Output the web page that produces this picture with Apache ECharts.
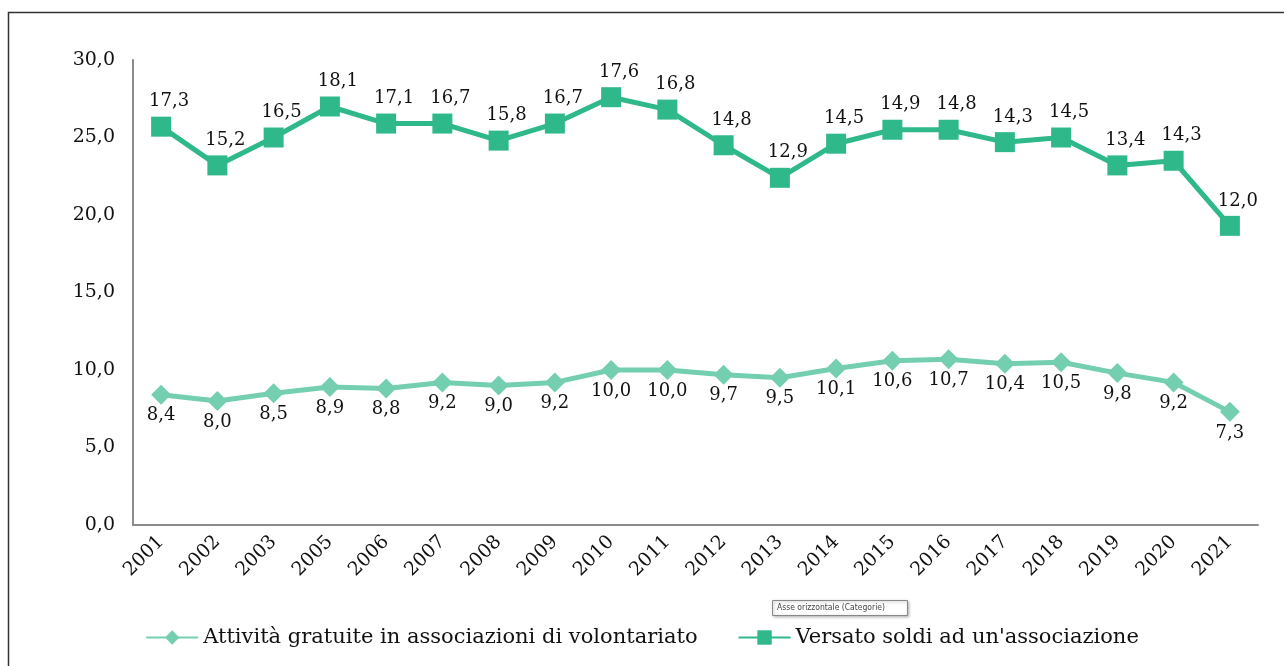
<!DOCTYPE html>
<html>
<head>
<meta charset="utf-8"/>
<title>Volontariato e donazioni</title>
<script src="https://cdn.jsdelivr.net/npm/echarts@6/dist/echarts.min.js"></script>
<style>
    html, body {margin: 0; padding: 0; background: #fff;}
    #chart {width: 1284px; height: 666px;}
</style>
</head>
<body>
<div id="chart"></div>
<script>
    // anni (manca il 2004)
    var years = ['2001', '2002', '2003', '2005', '2006', '2007', '2008', '2009', '2010', '2011',
        '2012', '2013', '2014', '2015', '2016', '2017', '2018', '2019', '2020', '2021'];
    var attivita = [8.4, 8.0, 8.5, 8.9, 8.8, 9.2, 9.0, 9.2, 10.0, 10.0,
        9.7, 9.5, 10.1, 10.6, 10.7, 10.4, 10.5, 9.8, 9.2, 7.3];
    var versato = [17.3, 15.2, 16.5, 18.1, 17.1, 16.7, 15.8, 16.7, 17.6, 16.8,
        14.8, 12.9, 14.5, 14.9, 14.8, 14.3, 14.5, 13.4, 14.3, 12.0];
    var yTicks = [0, 5, 10, 15, 20, 25, 30];

    var serif = 'DejaVu Serif';
    function virgola(v) {
        return Number(v).toFixed(1).replace('.', ',');
    }

    var myChart = echarts.init(document.getElementById('chart'));
    var option = {
        animation: false,
        backgroundColor: '#fff',
        textStyle: {fontFamily: serif, color: '#111'},
        grid: {left: 133, right: 26, top: 60, bottom: 141},
        legend: {
            bottom: 13,
            left: 'center',
            itemGap: 40,
            itemWidth: 52,
            itemHeight: 18,
            textStyle: {fontFamily: serif, fontSize: 21, color: '#111'},
            data: ['Attività gratuite in associazioni di volontariato', "Versato soldi ad un'associazione"]
        },
        xAxis: {
            type: 'category',
            data: years,
            boundaryGap: true,
            axisLine: {show: true, lineStyle: {color: '#8a8a8a', width: 2}},
            axisTick: {show: false},
            axisLabel: {rotate: 45, fontFamily: serif, fontSize: 19, color: '#111', margin: 14, interval: 0}
        },
        yAxis: {
            type: 'value',
            min: yTicks[0],
            max: yTicks[yTicks.length - 1],
            interval: 5,
            axisLine: {show: true, lineStyle: {color: '#8a8a8a', width: 2}},
            axisTick: {show: false},
            splitLine: {show: false},
            axisLabel: {fontFamily: serif, fontSize: 19, color: '#111', margin: 18, formatter: virgola}
        },
        series: [
            {
                name: 'Attività gratuite in associazioni di volontariato',
                type: 'line',
                stack: 'tot',
                data: attivita,
                symbol: 'diamond',
                symbolSize: 20,
                color: '#74cfb1',
                lineStyle: {width: 5, color: '#74cfb1'},
                itemStyle: {color: '#74cfb1'},
                label: {
                    show: true, position: 'bottom', distance: 2,
                    fontFamily: serif, fontSize: 18, color: '#111', formatter: function (p) { return virgola(p.value); }
                }
            },
            {
                name: "Versato soldi ad un'associazione",
                type: 'line',
                stack: 'tot',
                data: versato,
                symbol: 'rect',
                symbolSize: 20,
                color: '#2fb889',
                lineStyle: {width: 5, color: '#2fb889'},
                itemStyle: {color: '#2fb889'},
                label: {
                    show: true, position: 'top', distance: 6, offset: [8, 0],
                    fontFamily: serif, fontSize: 18, color: '#111', formatter: function (p) { return virgola(p.value); }
                }
            }
        ],
        graphic: [
            {
                type: 'rect', silent: true, z: 100,
                shape: {x: 8.5, y: 12.5, width: 1290, height: 700},
                style: {fill: 'none', stroke: '#333', lineWidth: 1.5}
            },
            {
                type: 'rect', silent: true, z: 100,
                shape: {x: 772.5, y: 600.5, width: 135, height: 15},
                style: {fill: '#fff', stroke: '#888', lineWidth: 1, shadowBlur: 3, shadowColor: 'rgba(0,0,0,0.3)', shadowOffsetX: 1, shadowOffsetY: 1}
            },
            {
                type: 'text', silent: true, z: 101,
                left: 777, top: 603,
                style: {text: 'Asse orizzontale (Categorie)', fontFamily: 'DejaVu Sans Condensed', fontSize: 8.5, fill: '#444'}
            }
        ]
    };
    myChart.setOption(option);
</script>
</body>
</html>
